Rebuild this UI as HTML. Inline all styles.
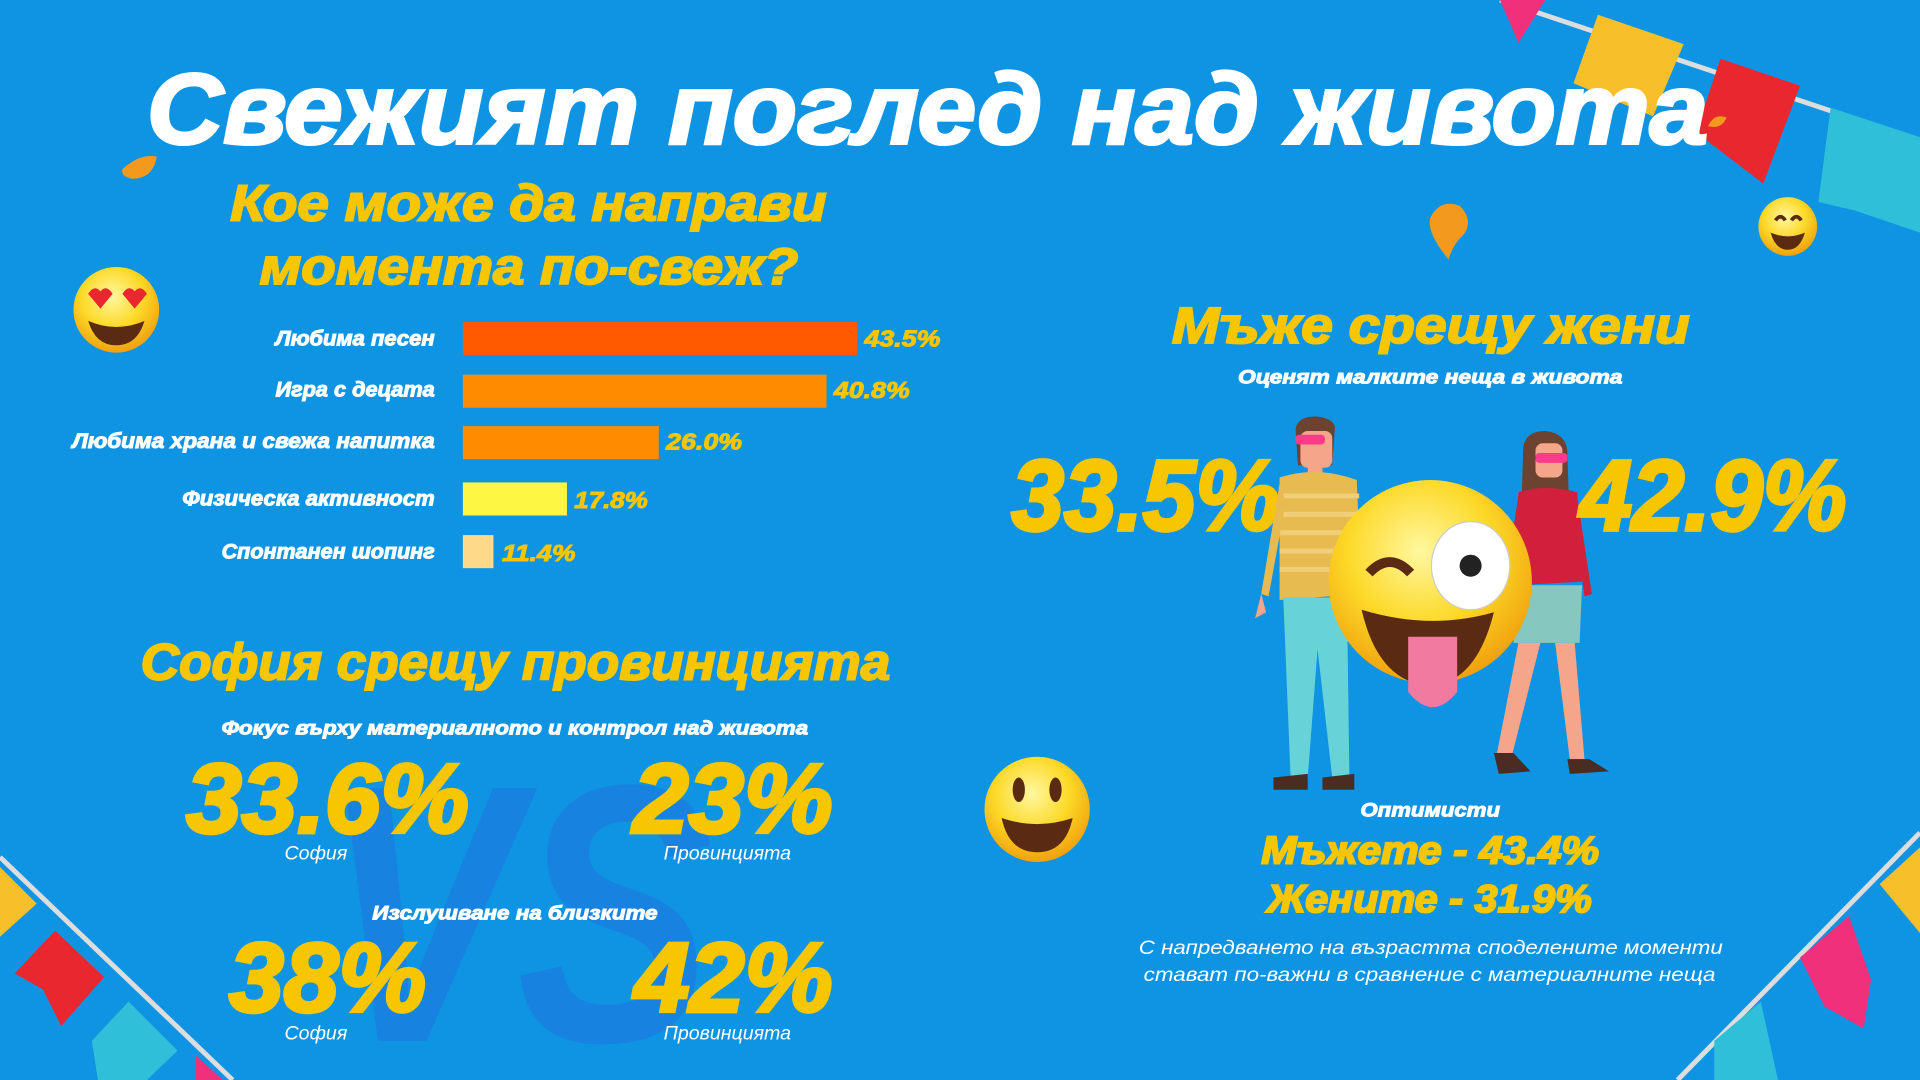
<!DOCTYPE html>
<html><head><meta charset="utf-8"><style>
html,body{margin:0;padding:0;width:1920px;height:1080px;overflow:hidden;background:#0f94e3}
svg{display:block}
text{font-family:"Liberation Sans","DejaVu Sans",sans-serif;font-weight:bold;font-style:italic}
.w{fill:#fff;stroke:#fff;stroke-width:0.8}.y{fill:#f7c600;stroke:#f7c600;stroke-width:1.6}
.n{stroke-width:0!important;font-weight:normal!important}
</style></head><body>
<svg width="1920" height="1080" viewBox="0 0 1568 882" xmlns="http://www.w3.org/2000/svg">
<rect width="1568" height="882" fill="#0f94e3"/>
<text x="262" y="850" font-size="300" fill="#1782df" textLength="320" lengthAdjust="spacingAndGlyphs">VS</text>
<path d="M1225 0 L1568 115" stroke="#ddd" stroke-width="4" fill="none"/>
<polygon points="1225,0 1262,0 1240,35" fill="#f0307a"/>
<polygon points="1305,12 1375,36 1350,95 1285,68" fill="#f7c02b"/>
<polygon points="1405,48 1470,70 1440,150 1385,108" fill="#e8282e"/>
<polygon points="1495,88 1568,112 1568,190 1515,172 1485,165" fill="#2fbfd8"/>
<path d="M0 700 L190 882" stroke="#ddd" stroke-width="4" fill="none"/>
<polygon points="0,708 30,738 0,765" fill="#f7c02b"/>
<polygon points="45,760 85,798 50,838 35,808 12,795" fill="#e8282e"/>
<polygon points="105,818 145,858 120,882 80,882 75,850" fill="#2fbfd8"/>
<polygon points="160,862 182,882 160,882" fill="#f0307a"/>
<path d="M1568 680 L1370 882" stroke="#ddd" stroke-width="4" fill="none"/>
<polygon points="1535,722 1568,692 1568,762" fill="#f7c02b"/>
<polygon points="1470,782 1510,748 1528,800 1522,840 1490,822" fill="#f0307a"/>
<polygon points="1400,850 1438,818 1452,882 1400,882" fill="#2fbfd8"/>
<path d="M100 138 Q115 125 128 128 Q125 146 108 146 Q98 144 100 138Z" fill="#f39a1e"/>
<path d="M1183 212 Q1165 190 1168 178 Q1176 162 1192 168 Q1204 180 1195 192 Q1186 200 1183 212Z" fill="#f39a1e"/>
<path d="M1395 103 Q1400 92 1410 96 Q1406 106 1395 103Z" fill="#f39a1e"/>
<text class="w" style="stroke-width:2.5" x="120" y="117" font-size="82" textLength="1275" lengthAdjust="spacingAndGlyphs">Свежият поглед над живота</text>
<text class="y" x="188" y="180" font-size="42" textLength="487" lengthAdjust="spacingAndGlyphs">Кое може да направи</text>
<text class="y" x="212" y="232" font-size="42" textLength="440" lengthAdjust="spacingAndGlyphs">момента по-свеж?</text>
<rect x="378" y="263" width="322" height="27" fill="#ff5a00"/>
<rect x="378" y="306" width="297" height="27" fill="#ff8c00"/>
<rect x="378" y="348" width="160" height="27" fill="#ff8c00"/>
<rect x="378" y="394" width="85" height="27" fill="#fdf744"/>
<rect x="378" y="437" width="25" height="27" fill="#ffd98a"/>
<g font-size="17" class="w" text-anchor="end">
<text x="355" y="282" textLength="130" lengthAdjust="spacingAndGlyphs">Любима песен</text>
<text x="355" y="324" textLength="130" lengthAdjust="spacingAndGlyphs">Игра с децата</text>
<text x="355" y="366" textLength="296" lengthAdjust="spacingAndGlyphs">Любима храна и свежа напитка</text>
<text x="355" y="413" textLength="206" lengthAdjust="spacingAndGlyphs">Физическа активност</text>
<text x="355" y="456" textLength="174" lengthAdjust="spacingAndGlyphs">Спонтанен шопинг</text>
</g>
<g font-size="19" class="y" style="stroke-width:0.8">
<text x="706" y="283" textLength="62" lengthAdjust="spacingAndGlyphs">43.5%</text>
<text x="681" y="325" textLength="62" lengthAdjust="spacingAndGlyphs">40.8%</text>
<text x="544" y="367" textLength="62" lengthAdjust="spacingAndGlyphs">26.0%</text>
<text x="469" y="415" textLength="60" lengthAdjust="spacingAndGlyphs">17.8%</text>
<text x="410" y="458" textLength="60" lengthAdjust="spacingAndGlyphs">11.4%</text>
</g>
<text class="y" x="115" y="555" font-size="42" textLength="612" lengthAdjust="spacingAndGlyphs">София срещу провинцията</text>
<text class="w" x="181" y="600" font-size="16" textLength="479" lengthAdjust="spacingAndGlyphs">Фокус върху материалното и контрол над живота</text>
<text class="y" style="stroke-width:3" x="152" y="680" font-size="80" textLength="231" lengthAdjust="spacingAndGlyphs">33.6%</text>
<text class="y" style="stroke-width:3" x="517" y="680" font-size="80" textLength="163" lengthAdjust="spacingAndGlyphs">23%</text>
<g class="w" font-size="16" text-anchor="middle">
<text class="n" x="258" y="702">София</text>
<text class="n" x="594" y="702">Провинцията</text>
<text class="n" x="258" y="849">София</text>
<text class="n" x="594" y="849">Провинцията</text>
</g>
<text class="w" x="304" y="751" font-size="16" textLength="233" lengthAdjust="spacingAndGlyphs">Изслушване на близките</text>
<text class="y" style="stroke-width:3" x="187" y="826" font-size="80" textLength="161" lengthAdjust="spacingAndGlyphs">38%</text>
<text class="y" style="stroke-width:3" x="518" y="826" font-size="80" textLength="162" lengthAdjust="spacingAndGlyphs">42%</text>
<text class="y" x="957" y="280" font-size="42" textLength="423" lengthAdjust="spacingAndGlyphs">Мъже срещу жени</text>
<text class="w" x="1011" y="313" font-size="16" textLength="314" lengthAdjust="spacingAndGlyphs">Оценят малките неща в живота</text>
<text class="y" style="stroke-width:3" x="826" y="433" font-size="82" textLength="219" lengthAdjust="spacingAndGlyphs">33.5%</text>
<g>
<path d="M1058 350 Q1060 340 1075 340 Q1092 342 1090 352 L1088 380 L1060 380Z" fill="#6b4330"/>
<rect x="1062" y="352" width="26" height="30" rx="6" fill="#f4a58a"/>
<rect x="1068" y="380" width="12" height="10" fill="#f4a58a"/>
<rect x="1058" y="355" width="24" height="8" rx="3" fill="#ff3a8a"/>
<path d="M1045 390 Q1075 380 1108 392 L1112 485 L1045 490Z" fill="#e8bb50"/>
<g stroke="#f1cf78" stroke-width="4"><line x1="1045" y1="405" x2="1110" y2="405"/><line x1="1045" y1="420" x2="1110" y2="420"/><line x1="1045" y1="435" x2="1110" y2="435"/><line x1="1045" y1="450" x2="1110" y2="450"/><line x1="1045" y1="465" x2="1110" y2="465"/></g>
<path d="M1045 395 L1030 485 L1036 487 L1050 410Z" fill="#e8bb50"/>
<path d="M1030 485 L1025 505 L1034 500Z" fill="#f4a58a"/>
<path d="M1048 488 L1100 488 L1102 635 L1088 635 L1076 530 L1068 635 L1054 635Z" fill="#67d2d8"/>
<path d="M1040 635 L1068 632 L1068 645 L1040 645Z" fill="#4a2c22"/>
<path d="M1080 635 L1106 632 L1106 645 L1080 645Z" fill="#4a2c22"/>
</g>
<g>
<path d="M1244 365 Q1246 352 1262 352 Q1280 354 1280 370 L1282 430 L1242 430Z" fill="#6b4330"/>
<rect x="1254" y="362" width="22" height="28" rx="6" fill="#f4a58a"/>
<rect x="1254" y="370" width="26" height="8" rx="3" fill="#ff3a8a"/>
<path d="M1240 402 Q1262 395 1288 402 L1292 475 L1238 478Z" fill="#d21f3c"/>
<path d="M1240 405 L1230 470 L1236 472 L1246 415Z" fill="#d21f3c"/>
<path d="M1288 405 L1300 485 L1294 487 L1284 415Z" fill="#d21f3c"/>
<path d="M1238 478 L1292 478 L1290 525 L1236 525Z" fill="#86c8c0"/>
<path d="M1240 525 L1222 618 L1234 620 L1258 525Z M1270 525 L1282 620 L1294 620 L1286 525Z" fill="#f4a58a"/>
<path d="M1220 615 L1236 615 L1250 630 L1224 632Z M1280 620 L1298 620 L1314 630 L1282 632Z" fill="#4a2c22"/>
</g>
<text class="y" style="stroke-width:3" x="1290" y="433" font-size="82" textLength="218" lengthAdjust="spacingAndGlyphs">42.9%</text>
<defs>
<radialGradient id="g" cx="45%" cy="35%" r="65%"><stop offset="0" stop-color="#fff7a0"/><stop offset="0.55" stop-color="#fcd928"/><stop offset="1" stop-color="#f1a10d"/></radialGradient>
</defs>
<circle cx="1168" cy="475" r="83" fill="url(#g)"/>
<ellipse cx="1201" cy="462" rx="32" ry="36" fill="#fff" stroke="#ccc"/>
<circle cx="1201" cy="462" r="9" fill="#222"/>
<path d="M1118 468 Q1135 450 1152 468" stroke="#5a2b12" stroke-width="8" fill="none"/>
<path d="M1112 498 Q1168 515 1220 500 Q1205 560 1165 560 Q1125 555 1112 498Z" fill="#5a2b12"/>
<path d="M1150 520 L1190 520 L1190 565 Q1170 590 1150 565Z" fill="#f07aa0"/>
<circle cx="95" cy="253" r="35" fill="url(#g)"/>
<path d="M72 240 q5 -8 10 -2 q5 -6 10 2 l-10 12z M100 240 q5 -8 10 -2 q5 -6 10 2 l-10 12z" fill="#e8282e"/>
<path d="M72 262 Q95 272 118 262 Q112 282 95 282 Q78 282 72 262Z" fill="#5a2b12"/>
<circle cx="1460" cy="185" r="24" fill="url(#g)"/>
<path d="M1450 180 q4 -6 8 0 M1463 180 q4 -6 8 0" stroke="#5a2b12" stroke-width="3" fill="none"/>
<path d="M1446 190 Q1460 196 1474 190 Q1470 204 1460 204 Q1450 204 1446 190Z" fill="#5a2b12"/>
<circle cx="847" cy="661" r="43" fill="url(#g)"/>
<ellipse cx="832" cy="645" rx="5" ry="10" fill="#5a2b12"/><ellipse cx="862" cy="645" rx="5" ry="10" fill="#5a2b12"/>
<path d="M818 668 Q847 678 876 668 Q870 696 847 696 Q824 696 818 668Z" fill="#5a2b12"/>
<text class="w" x="1111" y="667" font-size="16" textLength="114" lengthAdjust="spacingAndGlyphs">Оптимисти</text>
<text class="y" x="1030" y="705" font-size="32" textLength="276" lengthAdjust="spacingAndGlyphs">Мъжете - 43.4%</text>
<text class="y" x="1035" y="745" font-size="32" textLength="265" lengthAdjust="spacingAndGlyphs">Жените - 31.9%</text>
<text class="w n" x="930" y="779" font-size="16" textLength="477" lengthAdjust="spacingAndGlyphs">С напредването на възрастта споделените моменти</text>
<text class="w n" x="934" y="801" font-size="16" textLength="467" lengthAdjust="spacingAndGlyphs">стават по-важни в сравнение с материалните неща</text>
</svg>
</body></html>
